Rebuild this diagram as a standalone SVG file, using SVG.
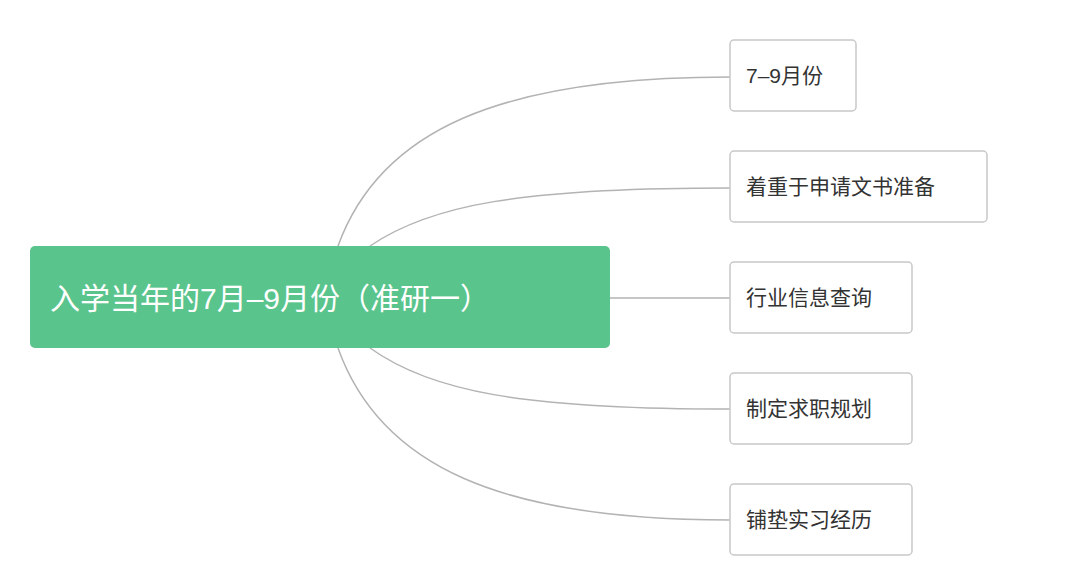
<svg xmlns="http://www.w3.org/2000/svg" width="1080" height="587" viewBox="0 0 1080 587">
<style>
.c{fill:none;stroke:#b3b3b3;stroke-width:1.5}
.n{fill:#fff;stroke:#c8c8c8;stroke-width:1.5}
.t{font-family:"Liberation Sans","Noto Sans CJK SC",sans-serif;font-size:21px;fill:#333}
</style>
<rect width="1080" height="587" fill="#fff"/>
<g id="connectors">
<path class="c" d="M338,246 C380,130 500,77 730,77"/>
<path class="c" d="M370,246 C430,205 520,188 730,188"/>
<path class="c" d="M610,298 L730,298"/>
<path class="c" d="M370,348 C430,391 520,409 730,409"/>
<path class="c" d="M338,348 C380,466 500,520 730,520"/>
</g>
<g id="root">
<rect x="30" y="246" width="580" height="102" rx="5" fill="#5ac48d"/>
<text x="50" y="309" font-family="Liberation Sans,Noto Sans CJK SC,sans-serif" font-size="30" fill="#fff">入学当年的7月–9月份（准研一）</text>
</g>
<g id="n1"><rect class="n" x="730" y="40" width="126" height="71" rx="4"/><text class="t" x="746" y="83">7–9月份</text></g>
<g id="n2"><rect class="n" x="730" y="151" width="257" height="71" rx="4"/><text class="t" x="746" y="194">着重于申请文书准备</text></g>
<g id="n3"><rect class="n" x="730" y="262" width="182" height="71" rx="4"/><text class="t" x="746" y="305">行业信息查询</text></g>
<g id="n4"><rect class="n" x="730" y="373" width="182" height="71" rx="4"/><text class="t" x="746" y="416">制定求职规划</text></g>
<g id="n5"><rect class="n" x="730" y="484" width="182" height="71" rx="4"/><text class="t" x="746" y="527">铺垫实习经历</text></g>
</svg>
